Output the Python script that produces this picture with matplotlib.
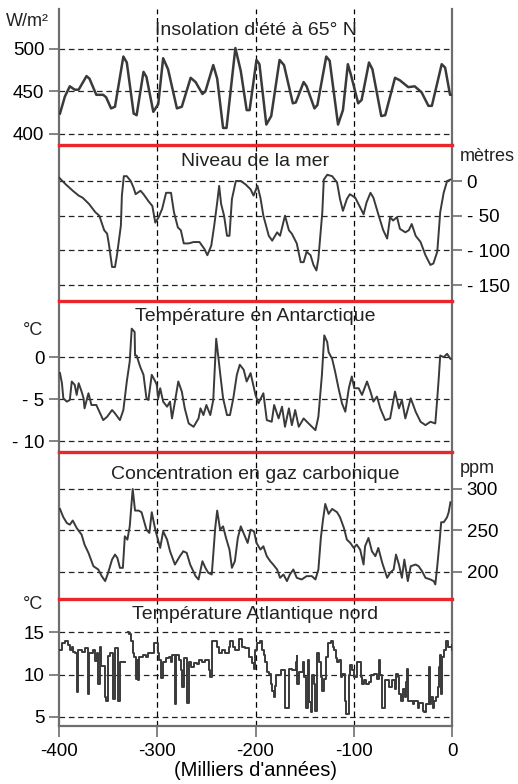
import numpy as np
import matplotlib.pyplot as plt

plt.rcParams['font.family'] = ['Liberation Sans', 'DejaVu Sans']

# --- data (time in thousands of years) ---
insol_t = [-399, -394, -389, -384, -380, -372, -369, -362, -355, -352, -347, -343,
           -334.5, -331, -324, -321, -314, -311, -304, -299, -294, -289, -280, -275,
           -266, -261, -254, -251, -243, -239, -233, -229.5, -220.5, -215, -209, -206,
           -199, -196, -189, -184, -175.5, -171, -162, -159, -151, -148, -140, -137,
           -128, -124.5, -116, -111, -106, -103, -95.5, -92, -84.5, -81, -72, -68,
           -58, -53, -44.5, -38, -31, -24, -20.5, -10.5, -7, -2, 0]
insol_v = [424, 444, 456, 452, 452, 468, 465, 446, 446, 443, 430, 432,
           491, 484, 424, 422, 473, 467, 426, 435, 489, 476, 430, 432,
           466, 461, 447, 450, 481, 465, 407, 407, 501, 474, 428, 428,
           487, 482, 411, 421, 487, 481, 436, 437, 461, 456, 430, 434,
           491, 486, 411, 428, 482, 470, 436, 440, 484, 476, 421, 422,
           466, 463, 455, 456, 449, 433, 433, 482, 478, 446, 446]

sea_t = [-400, -393, -386, -380, -376, -369.5, -363, -359, -354, -351, -349, -346,
         -343, -341, -337, -336, -334, -331, -327, -324, -322, -317, -314, -309,
         -305, -302, -298.5, -295, -291, -286, -283, -279, -276, -273, -268, -263,
         -257, -252, -249, -245, -242, -239, -237, -235, -232, -229, -226.5, -224,
         -220, -215, -210, -205, -202, -198, -195, -192, -186.5, -183, -178, -175,
         -170, -166, -163, -158, -154, -151, -148, -144, -141, -138, -136, -132,
         -130.5, -127, -122, -117, -114, -111, -107, -104, -98.5, -93.5, -90, -87,
         -83, -80, -75, -70, -66, -63, -60, -56, -53, -47.5, -44, -41, -37, -32,
         -27, -22, -19, -15, -12, -8.5, -5, -1.7]
sea_v = [5, -5, -14, -21, -24, -33, -45, -50, -71, -76, -93, -124,
         -124, -107, -64, -21, 7, 7, 0, -10, -19, -14, -19, -29,
         -36, -60, -52, -40, -17, -17, -45, -67, -71, -90, -90, -88,
         -88, -98, -107, -93, -64, -31, -7, -33, -50, -79, -79, -26,
         0, 0, -5, -12, -21, -7, -24, -50, -79, -86, -74, -79,
         -50, -71, -76, -90, -117, -117, -102, -107, -121, -129, -112, -45,
         2, 9, 7, -2, -26, -43, -26, -19, -24, -38, -48, -31,
         -17, -24, -48, -71, -83, -52, -57, -52, -69, -74, -71, -62, -79, -88,
         -107, -121, -119, -102, -45, -17, 0, 2]

ant_t = [-399, -397, -395.6, -392, -389, -387, -384, -382, -380, -377, -375, -374,
         -370, -367, -362, -355, -351, -346, -343, -338, -334.5, -331, -328, -326,
         -323, -322.6, -321, -317.5, -314, -311, -309, -305.6, -302, -300.5, -299, -297,
         -294, -290, -287, -285, -282, -278.6, -275, -272, -268, -263, -258, -256,
         -253, -250, -246, -243, -240, -238, -236, -233, -229, -226, -222.6, -219,
         -216, -212, -209, -205, -200, -197, -192, -188.5, -183.5, -181, -176.5, -173,
         -170, -166, -163, -159.6, -156, -151, -146, -139, -136, -132.4, -130, -127,
         -125.6, -122, -119, -115.5, -112, -108.6, -105, -102, -99.5, -95, -91.6, -86.5,
         -83, -80, -76.4, -73, -68, -63, -58, -54, -51, -47.5, -42, -37,
         -32, -27, -22, -17, -15, -13.5, -12, -8.4, -5, -1.6, 0]
ant_v = [-1.9, -3.1, -4.9, -5.3, -5.1, -2.9, -3.3, -4.5, -3.1, -4.1, -4.9, -6.1,
         -4.3, -5.7, -5.7, -7.5, -7.1, -6.3, -6.7, -7.5, -6.3, -2.9, -0.5, 3.4,
         3.0, 0.2, 0.2, -1.1, -2.1, -4.9, -5.1, -2.1, -2.9, -3.3, -4.9, -3.7,
         -5.3, -5.9, -5.3, -7.3, -5.3, -2.9, -4.1, -6.1, -7.9, -8.3, -7.3, -6.1,
         -6.9, -5.7, -6.9, -5.1, 2.2, 0.2, -1.9, -4.9, -6.9, -6.9, -4.9, -2.1,
         -0.9, -1.5, -2.9, -1.9, -4.5, -5.5, -4.3, -7.5, -7.7, -5.7, -7.3, -5.9,
         -8.3, -6.1, -8.1, -6.3, -8.3, -7.3, -7.9, -8.7, -7.1, -2.1, 2.6, 1.8,
         0.6, -0.2, -1.7, -3.7, -5.5, -6.5, -3.7, -2.3, -3.7, -3.7, -4.5, -2.9,
         -4.1, -5.3, -4.7, -6.1, -7.5, -7.3, -4.1, -6.1, -5.1, -7.3, -4.9, -6.5,
         -7.7, -8.1, -7.7, -7.9, -4.9, -2.5, 0.2, 0.0, 0.4, -0.2, -0.2]

co2_t = [-399, -395.6, -392, -389, -386, -382, -377, -374, -370, -365, -360, -356.5,
         -353, -350, -346, -343, -340.6, -338, -335, -333, -330.4, -328, -325, -322.6,
         -319, -316, -311, -308, -305.6, -302, -297, -294, -290, -287, -282, -277,
         -273.5, -270, -266.5, -261, -258, -254, -251, -248, -244.5, -241, -239, -236,
         -233, -230, -226.5, -224, -221, -218, -215, -211.5, -208, -205, -201.5, -199,
         -195, -192, -188.5, -185, -182, -178, -175, -171.5, -168, -165, -161.5, -158,
         -153, -148, -142.6, -139, -136, -133.5, -131.4, -129, -125.6, -122, -117, -114,
         -110, -107, -103.5, -100, -97, -93.5, -90, -88.5, -85, -81.5, -78, -75,
         -71, -66, -63, -59.4, -57, -54, -51, -48.5, -45, -42, -37, -34,
         -30.5, -27, -22, -18.6, -17, -15, -12.5, -11, -8.4, -5, -3.4, -1.6]
co2_v = [276, 266, 259, 257, 262, 253, 245, 233, 223, 207, 203, 195,
         189, 199, 215, 221, 217, 205, 205, 243, 239, 255, 300, 274,
         274, 272, 251, 247, 272, 251, 229, 249, 239, 225, 209, 219,
         225, 223, 209, 195, 191, 213, 205, 199, 197, 253, 274, 251,
         255, 241, 227, 205, 213, 241, 255, 245, 235, 251, 249, 235,
         227, 231, 219, 213, 209, 203, 193, 197, 189, 197, 203, 193,
         191, 195, 195, 191, 203, 241, 262, 282, 270, 276, 272, 266,
         253, 239, 235, 229, 233, 227, 209, 231, 241, 225, 219, 229,
         211, 193, 199, 203, 221, 209, 193, 215, 189, 207, 209, 207,
         201, 193, 191, 189, 185, 207, 239, 260, 260, 266, 272, 284]

atl_t = [-400, -397, -394, -391, -389, -387, -385.5, -384, -382, -380.5, -377, -374,
         -370, -369, -365, -363, -361, -360, -358.6, -357, -353.5, -352, -350, -348.5,
         -345, -343.4, -341.5, -340, -338, -336.5, -333, -330, -328.3, -326.6, -325, -323.5,
         -322, -320.5, -320, -318.5, -314.8, -311.5, -309.8, -306.5, -303.7, -301, -299.5, -298,
         -296, -294.6, -291.2, -288, -286.3, -284.6, -282, -281, -277.8, -276, -274.5, -272.4,
         -269.4, -268, -266, -262.6, -260, -257.6, -254, -251, -247.5, -246, -244, -240.7,
         -239, -237.4, -234, -230.6, -227, -225.6, -223, -220.5, -217, -213.8, -210.4, -207,
         -203.7, -202, -200.3, -198.3, -195, -193, -191.5, -190, -188, -186.3, -184.7, -183,
         -181.3, -180.6, -179.6, -176, -174.5, -171, -170, -167.7, -166, -162.6, -159, -158,
         -157.5, -155.8, -154, -152, -150.7, -149, -147, -145.6, -144, -142.5, -140.5, -139,
         -137, -135.4, -133.7, -132, -130.3, -128.6, -126, -123.5, -121.6, -120, -118.3, -116.7,
         -115, -113, -111.6, -109, -108, -106.5, -104.7, -104, -101.4, -99.7, -97, -94.6,
         -93, -91.2, -89.5, -87.8, -84.4, -82.7, -79, -76, -74.5, -72.9, -71.5, -70.8,
         -69.1, -68, -66.3, -64.6, -61.2, -57.8, -57, -55.3, -53.6, -51.9, -50.2, -47.6,
         -46.8, -46, -44.6, -41.6, -39.9, -38.2, -35, -33.2, -30, -28, -26.4, -23.8,
         -22.1, -21.4, -19.7, -18, -16.3, -14.6, -12.9, -11.8, -11, -10.1, -8.2, -6.5,
         -6, -3.6, -0.2, 0]
atl_v = [12.9, 13.7, 14.0, 13.5, 12.9, 13.3, 12.7, 12.5, 7.9, 12.9, 12.7, 13.1,
         7.7, 12.5, 12.9, 11.6, 12.5, 8.9, 13.3, 11.0, 7.3, 6.9, 12.2, 12.5,
         7.1, 13.1, 13.1, 6.9, 11.5, 11.5, np.nan, 15.0, 14.8, 13.9, 12.5, 12.1,
         9.5, 11.7, 9.3, 12.1, 12.3, 12.1, 12.5, 12.5, 13.7, 13.7, 12.5, 11.7,
         9.6, 11.5, 11.9, 12.1, 11.5, 12.3, 6.5, 12.3, 11.7, 10.5, 8.5, 11.9,
         6.7, 11.5, 10.9, 11.4, 11.2, 11.7, 11.5, 11.7, 10.5, 9.7, 14.0, 14.0,
         13.3, 12.5, 12.9, 12.5, 13.3, 14.0, 13.3, 12.9, 14.2, 13.3, 13.1, 12.1,
         11.3, 10.7, 12.9, 13.7, 14.0, 12.9, 12.3, 11.5, 10.3, 10.1, 8.9, 8.1,
         7.3, 8.7, 9.9, 9.9, 10.5, 10.5, 6.0, 6.0, 10.7, 10.5, 11.5, 12.2,
         8.9, 10.3, 10.3, 11.5, 9.7, 6.0, 11.7, 6.8, 5.6, 9.9, 8.9, 5.75,
         12.5, 11.5, 9.7, 8.1, 9.5, 12.1, 13.7, 13.9, 13.3, 12.9, 11.9, 11.5,
         11.7, 9.7, 10.1, 6.9, 5.4, 5.4, 9.9, 11.1, 10.5, 9.7, 11.5, 11.5,
         9.7, 8.9, 9.3, 8.9, 9.1, 9.9, 10.1, 9.5, 11.7, 9.9, 9.7, 6.1,
         6.1, 9.3, 9.3, 8.5, 9.3, 8.3, 10.1, 9.7, 7.7, 6.9, 8.3, 7.3,
         9.1, 10.7, 6.9, 6.9, 6.5, 6.9, 6.1, 6.7, 5.75, 5.55, 6.5, 10.9,
         6.5, 7.3, 6.1, 6.9, 7.3, 8.5, 10.9, 12.3, 7.7, 12.1, 12.9, 12.9,
         14.0, 13.3, 13.5, 12.9]

x_ticks = [-400, -300, -200, -100, 0]
x_labels = ['-400', '-300', '-200', '-100', '0']
x_grid = [-300, -200, -100]

panels = [
    dict(t=insol_t, v=insol_v, title="Insolation d'été à 65° N", ylim=(387, 547),
         ticks=[400, 450, 500], labels=['400', '450', '500'], side='left',
         unit='W/m²', unit_xy=(0.012, 0.972), ty=0.838, lw=1.8, step=False),
    dict(t=sea_t, v=sea_v, title='Niveau de la mer', ylim=(-173, 52),
         ticks=[0, -50, -100, -150], labels=['0', '- 50', '- 100', '- 150'], side='right',
         unit='mètres', unit_xy=(0.888, 0.80), ty=0.897, lw=1.4, step=False),
    dict(t=ant_t, v=ant_v, title='Température en Antarctique', ylim=(-11.3, 6.7),
         ticks=[0, -5, -10], labels=['0', '- 5', '- 10'], side='left',
         unit='°C', unit_xy=(0.045, 0.578), ty=0.90, lw=1.4, step=False),
    dict(t=co2_t, v=co2_v, title='Concentration en gaz carbonique', ylim=(167.5, 344.6),
         ticks=[200, 250, 300], labels=['200', '250', '300'], side='right',
         unit='ppm', unit_xy=(0.888, 0.402), ty=0.85, lw=1.4, step=False),
    dict(t=atl_t, v=atl_v, title='Température Atlantique nord', ylim=(3.94, 18.9),
         ticks=[5, 10, 15], labels=['5', '10', '15'], side='left',
         unit='°C', unit_xy=(0.045, 0.229), ty=0.88, lw=1.4, step=True),
]

# axes rectangles (left, bottom, width, height) in figure fraction
rects = [(0.1139, 0.8151, 0.7587, 0.1735),
         (0.1139, 0.6161, 0.7587, 0.1990),
         (0.1139, 0.4235, 0.7587, 0.1926),
         (0.1139, 0.2360, 0.7587, 0.1875),
         (0.1139, 0.0740, 0.7587, 0.1620)]

fig = plt.figure(figsize=(5.18, 7.84), dpi=100)
line_col = '#3a3a3a'
frame_col = '#6e6e6e'
red = '#e8262b'
dash = (0, (4.5, 3))

for i, (p, r) in enumerate(zip(panels, rects)):
    ax = fig.add_axes(r)
    ax.set_xlim(-400, 0)
    ax.set_ylim(*p['ylim'])
    ds = 'steps-post' if p['step'] else 'default'
    ax.plot(p['t'], p['v'], color=line_col, lw=p['lw'], drawstyle=ds,
            solid_joinstyle='round', zorder=3)
    for g in x_grid:
        ax.axvline(g, color='black', lw=0.9, ls=dash, zorder=1)
    for g in p['ticks']:
        ax.axhline(g, color='#222222', lw=0.9, ls=dash, zorder=1)

    ax.set_yticks(p['ticks'])
    ax.set_yticklabels(p['labels'])
    if p['side'] == 'right':
        ax.yaxis.tick_right()
    ax.tick_params(axis='y', direction='out', length=7, width=1.2, color=frame_col,
                   labelsize=13.5, pad=3.5)

    for s in ['left', 'right']:
        ax.spines[s].set_color(frame_col)
        ax.spines[s].set_linewidth(1.6)
    ax.spines['bottom'].set_visible(False)
    if i == 0:
        ax.spines['top'].set_visible(False)
    else:
        ax.spines['top'].set_color(red)
        ax.spines['top'].set_linewidth(2.4)
        ax.spines['top'].set_zorder(5)

    if i == len(panels) - 1:
        ax.spines['bottom'].set_visible(True)
        ax.spines['bottom'].set_color(frame_col)
        ax.spines['bottom'].set_linewidth(1.6)
        ax.set_xticks(x_ticks)
        ax.set_xticklabels(x_labels)
        ax.tick_params(axis='x', direction='out', length=8, width=1.2, color=frame_col,
                       labelsize=13.5, pad=4)
        ax.set_xlabel("(Milliers d'années)", fontsize=14.5, labelpad=1)
    else:
        ax.set_xticks([])

    ax.text(0.5, p['ty'], p['title'], transform=ax.transAxes, ha='center', va='center',
            fontsize=14, color='#222222', zorder=4)
    fig.text(p['unit_xy'][0], p['unit_xy'][1], p['unit'], ha='left', va='center',
             fontsize=13, color='#222222')

fig.savefig('out.png', dpi=100)
